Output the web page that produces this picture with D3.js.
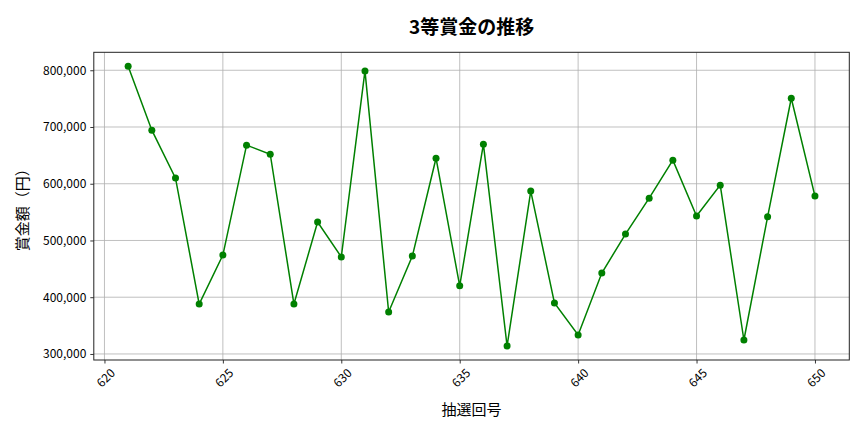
<!DOCTYPE html>
<html>
<head>
<meta charset="utf-8">
<script src="https://cdn.jsdelivr.net/npm/d3@7"></script>
<style>
  body { margin: 0; background: #fff; }
  text { font-family: "Noto Sans CJK JP", "Noto Sans", sans-serif; fill: #000; }
</style>
</head>
<body>
<svg id="chart" width="864" height="432"></svg>
<script>
// draw numbers and the 3rd-prize amount (yen)
var rounds = [621, 622, 623, 624, 625, 626, 627, 628, 629, 630,
  631, 632, 633, 634, 635, 636, 637, 638, 639, 640,
  641, 642, 643, 644, 645, 646, 647, 648, 649, 650];
var prizes = [807000, 694400, 609900, 388000, 474300, 668000, 652000, 388000, 532400, 471000,
  798800, 374000, 472500, 645000, 420000, 669700, 314000, 587000, 390000, 333500,
  442600, 511300, 574600, 641500, 543000, 597500, 324600, 541700, 750700, 578200];
var xTicks = [620, 625, 630, 635, 640, 645, 650];
var yTicks = [300000, 400000, 500000, 600000, 700000, 800000];

var svg = d3.select("#chart");
var margin = { left: 93.8, right: 864 - 849.3, top: 52.3, bottom: 432 - 360 };
var w = 864 - margin.left - margin.right;
var h = 432 - margin.top - margin.bottom;

// matplotlib-style 5% padding around the data
var xExt = d3.extent(rounds), yExt = d3.extent(prizes);
var xPad = (xExt[1] - xExt[0]) * 0.05, yPad = (yExt[1] - yExt[0]) * 0.05;
var x = d3.scaleLinear().domain([xExt[0] - xPad, xExt[1] + xPad]).range([0, w]);
var y = d3.scaleLinear().domain([yExt[0] - yPad, yExt[1] + yPad]).range([h, 0]);

var g = svg.append("g").attr("transform", "translate(" + margin.left + "," + margin.top + ")");

// grid
g.append("g")
  .selectAll("line.vg")
  .data(xTicks)
  .enter()
  .append("line")
  .attr("x1", function(d) { return x(d); })
  .attr("x2", function(d) { return x(d); })
  .attr("y1", 0)
  .attr("y2", h)
  .style("stroke", "#b0b0b0")
  .style("stroke-width", 0.8);
g.append("g")
  .selectAll("line.hg")
  .data(yTicks)
  .enter()
  .append("line")
  .attr("x1", 0)
  .attr("x2", w)
  .attr("y1", function(d) { return y(d); })
  .attr("y2", function(d) { return y(d); })
  .style("stroke", "#b0b0b0")
  .style("stroke-width", 0.8);

// axes
var fmt = d3.format(",");
var xAxis = g.append("g")
  .attr("transform", "translate(0," + h + ")")
  .call(d3.axisBottom(x).tickValues(xTicks).tickSize(3.5).tickFormat(d3.format("d")));
xAxis.selectAll("text")
  .attr("y", null)
  .attr("dy", null)
  .attr("text-anchor", "middle")
  .attr("dominant-baseline", "central")
  .attr("transform", "translate(0,17) rotate(-45)")
  .style("font-size", "12px");

var yAxis = g.append("g")
  .call(d3.axisLeft(y).tickValues(yTicks).tickSize(3.5).tickPadding(4).tickFormat(fmt));
yAxis.selectAll("text").style("font-size", "12px");

[xAxis, yAxis].forEach(function(a) {
  a.select(".domain").remove();
  a.selectAll("line").style("stroke", "#000").style("stroke-width", 0.8);
});

// frame
g.append("rect")
  .attr("width", w)
  .attr("height", h)
  .style("fill", "none")
  .style("stroke", "#222")
  .style("stroke-width", 1);

// series
var line = d3.line()
  .x(function(d, i) { return x(rounds[i]); })
  .y(function(d) { return y(d); });
g.append("path")
  .datum(prizes)
  .attr("d", line)
  .style("fill", "none")
  .style("stroke", "#008000")
  .style("stroke-width", 1.5);
g.selectAll("circle")
  .data(prizes)
  .enter()
  .append("circle")
  .attr("cx", function(d, i) { return x(rounds[i]); })
  .attr("cy", function(d) { return y(d); })
  .attr("r", 3.5)
  .style("fill", "#008000");

// titles
svg.append("text")
  .attr("x", margin.left + w / 2)
  .attr("y", 25)
  .attr("text-anchor", "middle")
  .attr("dominant-baseline", "central")
  .style("font-size", "19px")
  .style("font-weight", "bold")
  .text("3等賞金の推移");
svg.append("text")
  .attr("x", margin.left + w / 2)
  .attr("y", 408)
  .attr("text-anchor", "middle")
  .attr("dominant-baseline", "central")
  .style("font-size", "15px")
  .text("抽選回号");
svg.append("text")
  .attr("transform", "translate(21," + (margin.top + h / 2) + ") rotate(-90)")
  .attr("text-anchor", "middle")
  .attr("dominant-baseline", "central")
  .style("font-size", "15px")
  .text("賞金額（円）");
</script>
</body>
</html>
